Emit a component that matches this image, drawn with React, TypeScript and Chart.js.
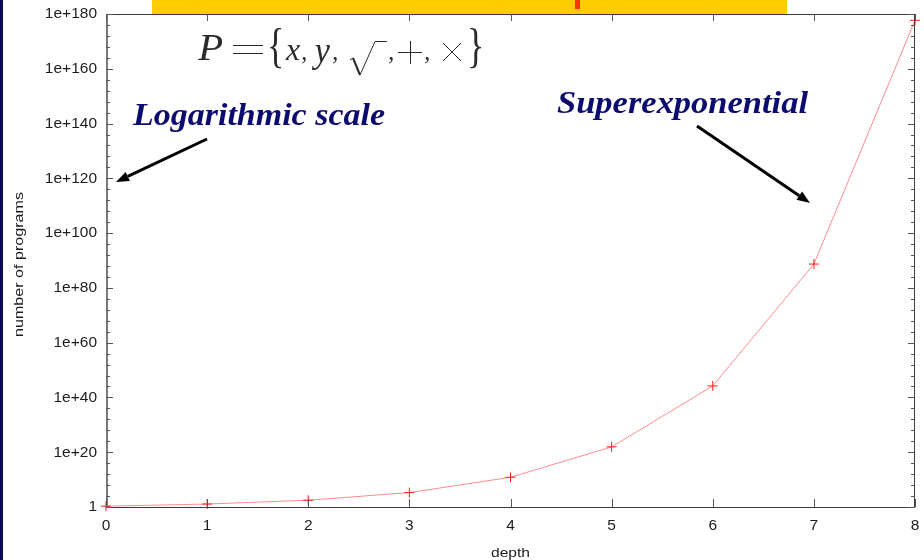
import { useEffect, useRef } from "react";
import { Chart, registerables } from "chart.js";

Chart.register(...registerables);

// Depth of the expression tree and how many programs exist up to that depth
const depths = [0, 1, 2, 3, 4, 5, 6, 7, 8];
const programCounts = [2, 12, 302, 1.8e5, 7e10, 9e21, 1.6e44, 5e88, 5e177];
// Labelled powers of ten on the logarithmic axis
const yTickExponents = [0, 20, 40, 60, 80, 100, 120, 140, 160, 180];
const yMinorStep = 4;

const LABEL_COLOR = "#1c1c1c";
const NAVY = "#0c0c70";
const INK = "#2a2a2a";
const SERIF = '"Liberation Serif", "Times New Roman", serif';

function fitText(
  ctx: CanvasRenderingContext2D,
  text: string,
  x: number,
  y: number,
  width: number
) {
  const w = ctx.measureText(text).width;
  ctx.save();
  ctx.translate(x, y);
  ctx.scale(width / w, 1);
  ctx.fillText(text, 0, 0);
  ctx.restore();
}

// Draw a glyph stretched so its ink fills the given box
function glyphInBox(
  ctx: CanvasRenderingContext2D,
  text: string,
  font: string,
  x0: number,
  y0: number,
  x1: number,
  y1: number
) {
  ctx.save();
  ctx.font = font;
  ctx.textAlign = "left";
  ctx.textBaseline = "alphabetic";
  const m = ctx.measureText(text);
  const inkW = m.actualBoundingBoxLeft + m.actualBoundingBoxRight;
  const inkH = m.actualBoundingBoxAscent + m.actualBoundingBoxDescent;
  const sx = (x1 - x0) / inkW;
  const sy = (y1 - y0) / inkH;
  ctx.translate(x0, y0);
  ctx.scale(sx, sy);
  ctx.fillText(text, m.actualBoundingBoxLeft, m.actualBoundingBoxAscent);
  ctx.restore();
}

function arrow(
  ctx: CanvasRenderingContext2D,
  x1: number,
  y1: number,
  x2: number,
  y2: number
) {
  const ang = Math.atan2(y2 - y1, x2 - x1);
  const head = 13;
  const half = 5;
  const bx = x2 - Math.cos(ang) * head;
  const by = y2 - Math.sin(ang) * head;
  ctx.save();
  ctx.strokeStyle = "#000";
  ctx.fillStyle = "#000";
  ctx.lineWidth = 3;
  ctx.beginPath();
  ctx.moveTo(x1, y1);
  ctx.lineTo(bx, by);
  ctx.stroke();
  ctx.beginPath();
  ctx.moveTo(x2, y2);
  ctx.lineTo(bx + Math.sin(ang) * half, by - Math.cos(ang) * half);
  ctx.lineTo(bx - Math.sin(ang) * half, by + Math.cos(ang) * half);
  ctx.closePath();
  ctx.fill();
  ctx.restore();
}

function primitiveSet(ctx: CanvasRenderingContext2D) {
  const it = `italic 36px ${SERIF}`;
  const up = `36px ${SERIF}`;
  const thin = `24px ${SERIF}`;
  ctx.save();
  ctx.fillStyle = INK;
  glyphInBox(ctx, "P", it, 197, 35, 223, 60);
  glyphInBox(ctx, "{", thin, 270, 30, 282, 70);
  glyphInBox(ctx, "x", it, 285, 45, 300, 60);
  glyphInBox(ctx, ",", up, 302, 57, 306, 64);
  glyphInBox(ctx, "y", it, 312, 45, 330, 70);
  glyphInBox(ctx, ",", up, 333, 57, 337, 64);
  glyphInBox(ctx, ",", up, 389, 57, 393, 64);
  glyphInBox(ctx, ",", up, 425, 57, 429, 64);
  glyphInBox(ctx, "}", thin, 470, 30, 482, 70);

  ctx.strokeStyle = INK;
  ctx.lineWidth = 1;
  ctx.lineCap = "butt";
  ctx.beginPath();
  // equals
  ctx.moveTo(233, 45.5);
  ctx.lineTo(263, 45.5);
  ctx.moveTo(233, 53.5);
  ctx.lineTo(263, 53.5);
  // plus
  ctx.moveTo(398, 52.5);
  ctx.lineTo(422, 52.5);
  ctx.moveTo(410.5, 41);
  ctx.lineTo(410.5, 64);
  // times
  ctx.moveTo(443, 43);
  ctx.lineTo(461, 61);
  ctx.moveTo(461, 43);
  ctx.lineTo(443, 61);
  ctx.stroke();

  // radical sign
  ctx.beginPath();
  ctx.moveTo(350, 60);
  ctx.lineTo(353, 58);
  ctx.stroke();
  ctx.lineWidth = 2;
  ctx.beginPath();
  ctx.moveTo(353, 58);
  ctx.lineTo(360, 75);
  ctx.stroke();
  ctx.lineWidth = 1;
  ctx.beginPath();
  ctx.moveTo(360, 75);
  ctx.lineTo(375, 41.5);
  ctx.lineTo(387, 41.5);
  ctx.stroke();
  ctx.restore();
}

const decorations = {
  id: "decorations",
  afterDraw(chart: Chart) {
    const ctx = chart.ctx;
    const { left, right, top, bottom } = chart.chartArea;
    const xs = chart.scales.x;
    const ys = chart.scales.y;

    // frame
    ctx.save();
    ctx.strokeStyle = "#3a3a3a";
    ctx.lineWidth = 1;
    ctx.strokeRect(left + 0.5, top + 0.5, right - left - 1, bottom - top);
    ctx.strokeStyle = "#7a7a7a";
    ctx.lineWidth = 2;
    ctx.beginPath();
    ctx.moveTo(left + 1, top);
    ctx.lineTo(left + 1, bottom);
    ctx.stroke();

    // inward tick marks, mirrored on both sides
    ctx.strokeStyle = "#555";
    ctx.lineWidth = 1;
    ctx.beginPath();
    for (let e = 0; e <= 180; e += yMinorStep) {
      const py = Math.round(ys.getPixelForValue(Math.pow(10, e))) + 0.5;
      const len = e % 20 === 0 ? 7 : 4;
      ctx.moveTo(left, py);
      ctx.lineTo(left + len, py);
      ctx.moveTo(right, py);
      ctx.lineTo(right - len, py);
    }
    for (const d of depths) {
      const px = Math.round(xs.getPixelForValue(d)) + 0.5;
      ctx.moveTo(px, bottom);
      ctx.lineTo(px, bottom - 8);
      ctx.moveTo(px, top);
      ctx.lineTo(px, top + 7);
    }
    ctx.stroke();

    // axis titles
    ctx.fillStyle = LABEL_COLOR;
    ctx.font = '13px "Liberation Sans", Arial, sans-serif';
    ctx.textAlign = "left";
    ctx.textBaseline = "middle";
    ctx.save();
    ctx.translate(19, 337);
    ctx.rotate(-Math.PI / 2);
    fitText(ctx, "number of programs", 0, 0, 145);
    ctx.restore();
    ctx.textBaseline = "alphabetic";
    fitText(ctx, "depth", 491, 557, 39);

    // callouts
    ctx.fillStyle = NAVY;
    ctx.font = `bold italic 32px ${SERIF}`;
    fitText(ctx, "Logarithmic scale", 133, 125, 252);
    fitText(ctx, "Superexponential", 557, 113, 251);
    arrow(ctx, 207, 139, 116, 182);
    arrow(ctx, 697, 126, 810, 203);

    primitiveSet(ctx);

    // slide strip and header bar
    ctx.fillStyle = "#0a0a52";
    ctx.fillRect(0, 0, 3, 560);
    ctx.fillStyle = "#ffcc00";
    ctx.fillRect(152, 0, 635, 14);
    ctx.fillStyle = "#ff3300";
    ctx.fillRect(575, 0, 5, 9);
    ctx.restore();
  },
};

export default function App() {
  const ref = useRef<HTMLCanvasElement>(null);

  useEffect(() => {
    if (!ref.current) return;
    const tickFont = { family: '"Liberation Sans", Arial, sans-serif', size: 15.5 };
    const chart = new Chart(ref.current, {
      type: "line",
      data: {
        datasets: [
          {
            data: depths.map((d, i) => ({ x: d, y: programCounts[i] })),
            borderColor: "#ff8c8c",
            borderWidth: 1,
            pointStyle: "cross",
            pointRadius: 5,
            pointBorderColor: "#ff1a1a",
            pointBorderWidth: 1,
            tension: 0,
            clip: false,
          },
        ],
      },
      options: {
        responsive: false,
        animation: false,
        layout: { padding: { top: 14, right: 9, left: 0, bottom: 0 } },
        plugins: { legend: { display: false }, tooltip: { enabled: false } },
        scales: {
          x: {
            type: "linear",
            min: 0,
            max: 8,
            grid: { display: false, drawTicks: false },
            border: { display: false },
            ticks: { stepSize: 1, padding: 9, color: LABEL_COLOR, font: tickFont, maxRotation: 0 },
            afterFit: (s: any) => {
              s.height = 53;
              s.paddingLeft = 0;
              s.paddingRight = 0;
            },
          },
          y: {
            type: "logarithmic",
            min: 1,
            max: 1e180,
            grid: { display: false, drawTicks: false },
            border: { display: false },
            afterBuildTicks: (s: any) => {
              s.ticks = yTickExponents.map((e) => ({ value: Math.pow(10, e) }));
            },
            ticks: {
              padding: 9,
              color: LABEL_COLOR,
              font: tickFont,
              callback: (v: any) => {
                const e = Math.round(Math.log10(Number(v)));
                return e === 0 ? "1" : "1e+" + e;
              },
            },
            afterFit: (s: any) => {
              s.width = 106;
              s.paddingTop = 0;
              s.paddingBottom = 0;
            },
          },
        },
      },
      plugins: [decorations],
    });
    return () => chart.destroy();
  }, []);

  return (
    <canvas
      ref={ref}
      width={924}
      height={560}
      style={{ position: "absolute", left: 0, top: 0, background: "#fff" }}
    />
  );
}
